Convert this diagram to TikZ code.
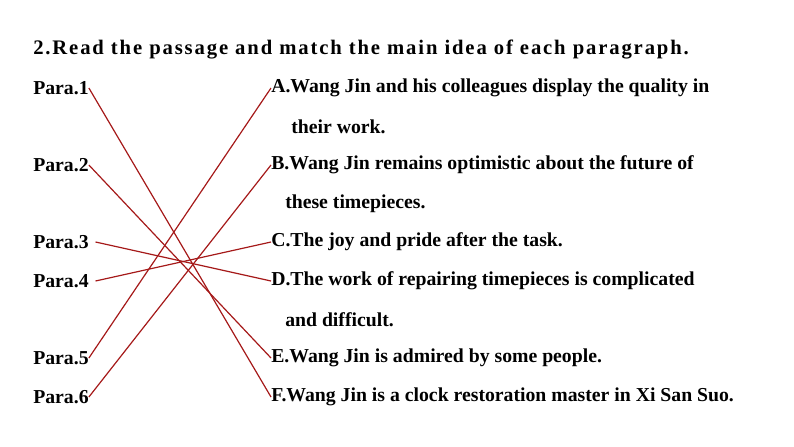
\documentclass[tikz,border=0pt]{standalone}
\usepackage{fontspec}
\setmainfont{Liberation Serif}
\newfontfamily\spacedfont[LetterSpace=9]{Liberation Serif}
\definecolor{linkred}{RGB}{165,25,25}
\begin{document}
\begin{tikzpicture}[
        x=0.75pt, y=-0.75pt,
        every node/.style={anchor=west, inner sep=0pt, font=\fontsize{14.8}{17}\selectfont\bfseries},
        link/.style={draw=linkred, line width=0.9pt}
    ]
    \useasboundingbox (0,0) rectangle (794,447);

    % Aufgabe
    \node[font=\spacedfont\fontsize{15.5}{18}\selectfont\bfseries] (task) at (33,50) {2.Read the passage and match the main idea of each paragraph.};

    % Absaetze links
    \node (p1) at (33,88) {Para.1};
    \node (p2) at (33,165) {Para.2};
    \node (p3) at (33,242) {Para.3};
    \node (p4) at (33,281) {Para.4};
    \node (p5) at (33,358) {Para.5};
    \node (p6) at (33,397) {Para.6};

    % Hauptideen rechts
    \node (a) at (271,88) {A.Wang Jin and his colleagues display the quality in};
    \node (a2) at (291,127) {their work.};
    \node (b) at (271,165) {B.Wang Jin remains optimistic about the future of};
    \node (b2) at (285,204) {these timepieces.};
    \node (c) at (271,242) {C.The joy and pride after the task.};
    \node (d) at (271,281) {D.The work of repairing timepieces is complicated};
    \node (d2) at (285,320) {and difficult.};
    \node (e) at (271,358) {E.Wang Jin is admired by some people.};
    \node (f) at (271,397) {F.Wang Jin is a clock restoration master in Xi San Suo.};

    % Zuordnung
    \draw[link] (p1.east) -- (f.west);
    \draw[link] (p2.east) -- (e.west);
    \draw[link] ([xshift=5pt]p3.east) -- (d.west);
    \draw[link] ([xshift=5pt]p4.east) -- (c.west);
    \draw[link] (p5.east) -- (a.west);
    \draw[link] (p6.east) -- (b.west);
\end{tikzpicture}
\end{document}
